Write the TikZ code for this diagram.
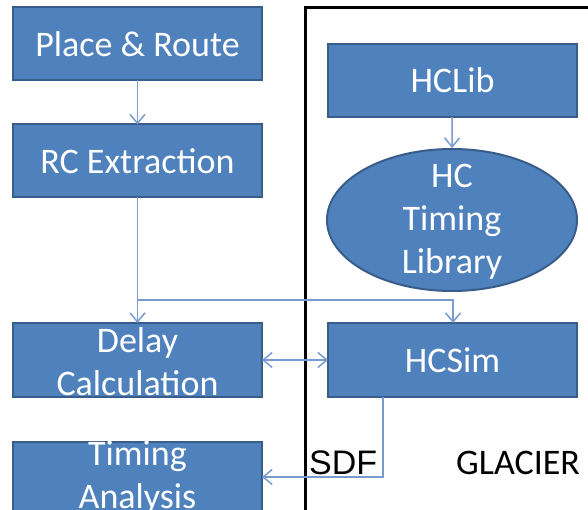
\documentclass[tikz,border=0pt]{standalone}
\usepackage{fontspec}
\setmainfont{Carlito}
\newfontfamily\arialfont{Liberation Sans}
\usetikzlibrary{arrows.meta,shapes.geometric}
\definecolor{boxfill}{HTML}{4F81BD}
\definecolor{boxline}{HTML}{385D8A}
\definecolor{linkcol}{RGB}{120,155,208}
\tikzset{
  blockbox/.style={draw=boxline, line width=2pt, fill=boxfill, rectangle,
    minimum width=249pt, minimum height=73pt, inner sep=0pt, outer sep=0pt,
    text=white, font=\fontsize{36}{43}\selectfont},
  blocktext/.style={text=white, align=center, inner sep=0pt,
    font=\fontsize{36}{43}\selectfont},
  link/.style={draw=linkcol, line width=1.5pt},
  tip/.style={-{Straight Barb[length=9pt,width=15pt,line width=1.5pt]}},
}
\begin{document}
\begin{tikzpicture}[x=1pt,y=-1pt]
  \useasboundingbox (0,0) rectangle (588,510);
  \clip (0,0) rectangle (588,510);
  \fill[white] (0,0) rectangle (588,510);

  % GLACIER frame
  \draw[line width=3pt, black] (305,8) rectangle (620,540);

  % left-hand flow
  \node[blockbox] (pr) at (137.5,44) {Place \& Route};
  \node[blockbox] (rc) at (137.5,161) {RC Extraction};
  \node[blockbox, minimum height=74pt] (dc) at (137.5,360) {};
  \node[blocktext] (dct) at (137.5,362) {Delay\\Calculation};
  \node[blockbox, minimum height=74pt] (ta) at (137.5,479) {};
  \node[blocktext] (tat) at (137.5,478) {Timing\\Analysis};

  % GLACIER tools
  \node[blockbox] (hclib) at (452.5,80.5) {HCLib};
  \node[ellipse, draw=boxline, line width=2pt, fill=boxfill, inner sep=0pt,
        minimum width=250pt, minimum height=142pt] (lib) at (452,220) {};
  \node[blocktext] (libt) at (452,222) {HC\\Timing\\Library};
  \node[blockbox, minimum height=74pt] (hcsim) at (452.5,360) {HCSim};

  % connectors
  \coordinate (split) at (137.5,300);
  \draw[link,tip] (pr) -- (rc);
  \draw[link] (rc.south) -- (split);
  \draw[link,tip] (split) -- (dc.north);
  \draw[link,tip] (split) -| ([xshift=0.5pt]hcsim.north);
  \draw[link,tip] (hclib) -- (lib.north);
  \draw[link,{Straight Barb[length=9pt,width=15pt,line width=1.5pt]}-{Straight Barb[length=9pt,width=15pt,line width=1.5pt]}] (dc.east) -- (hcsim.west);
  \coordinate (sdfout) at ([xshift=55pt]hcsim.south west);
  \draw[link,tip] (sdfout) |- ([yshift=2pt]ta.east);

  % labels
  \node[font=\arialfont\fontsize{34}{40}\selectfont, inner sep=0pt, anchor=west] (sdf) at (309,463) {SDF};
  \node[font=\fontsize{36}{42}\selectfont, inner sep=0pt, anchor=west] (glacier) at (456,463) {GLACIER};
\end{tikzpicture}
\end{document}
